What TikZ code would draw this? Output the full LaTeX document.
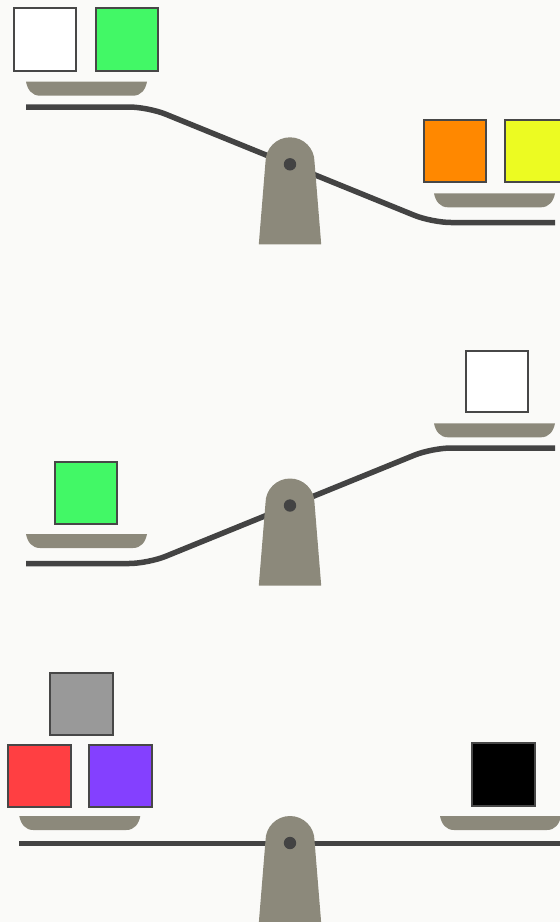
\documentclass[tikz,border=0pt]{standalone}
\usepackage{tikz}
\definecolor{bgcol}{HTML}{FAFAF8}
\definecolor{pancol}{HTML}{8C897B}
\definecolor{beamcol}{HTML}{434343}
\definecolor{edgecol}{HTML}{474747}
\definecolor{cwhite}{HTML}{FFFFFF}
\definecolor{cgreen}{HTML}{42F866}
\definecolor{corange}{HTML}{FF8800}
\definecolor{cyellow}{HTML}{ECFB22}
\definecolor{cgray}{HTML}{999999}
\definecolor{cred}{HTML}{FF3F42}
\definecolor{cpurple}{HTML}{8440FF}
\definecolor{cblack}{HTML}{000000}
\tikzset{
  box/.style={draw=edgecol, line width=2pt},
  beamline/.style={draw=beamcol, line width=5.5pt, rounded corners=19pt},
  pan/.pic={
    \fill[pancol] (0,0) -- (121,0) .. controls (119.5,8) and (115,14) .. (107,14)
      -- (14,14) .. controls (6,14) and (1.5,8) .. (0,0) -- cycle;
  },
  stand/.pic={
    \fill[pancol] (-31.2,80) -- (-24.5,-2.5) arc (180:360:24.5) -- (31.2,80) -- cycle;
    \fill[beamcol] (0,0) circle (6.2);
  }
}
\begin{document}
\begin{tikzpicture}[x=1pt,y=-1pt]
\fill[bgcol] (0,0) rectangle (560,922);
\useasboundingbox (0,0) rectangle (560,922);
\clip (0,0) rectangle (560,922);

% ---------- Panel 1 ----------
\draw[box, fill=cwhite] (13.5,8) rectangle (76,70.5);
\draw[box, fill=cgreen] (95.5,8) rectangle (158,70.5);
\pic at (26,81.7) {pan};
\draw[beamline] (26,107) -- (148,107) -- (432,222.5) -- (555,222.5);
\pic at (290,164.3) {stand};
\draw[box, fill=corange] (423.5,120) rectangle (486,182);
\draw[box, fill=cyellow] (505,120) rectangle (567.5,182);
\pic at (434,193.3) {pan};

% ---------- Panel 2 ----------
\draw[box, fill=cgreen] (55,461.7) rectangle (117,523.7);
\pic at (26,534) {pan};
\draw[box, fill=cwhite] (465.5,350.7) rectangle (528,412.3);
\pic at (434,423.3) {pan};
\draw[beamline] (26,563.5) -- (148,563.5) -- (432,448) -- (555,448);
\pic at (290,505.5) {stand};

% ---------- Panel 3 ----------
\draw[box, fill=cgray] (50,672.7) rectangle (112.7,735);
\draw[box, fill=cred] (8,745) rectangle (70.7,806.7);
\draw[box, fill=cpurple] (89.3,745) rectangle (152,806.7);
\pic at (19.3,816) {pan};
\draw[box, fill=cblack] (471.7,743.3) rectangle (535,806);
\pic at (440,816) {pan};
\draw[draw=beamcol, line width=5.5pt] (19.3,843.3) -- (562,843.3);
\pic at (290,843) {stand};
\end{tikzpicture}
\end{document}
